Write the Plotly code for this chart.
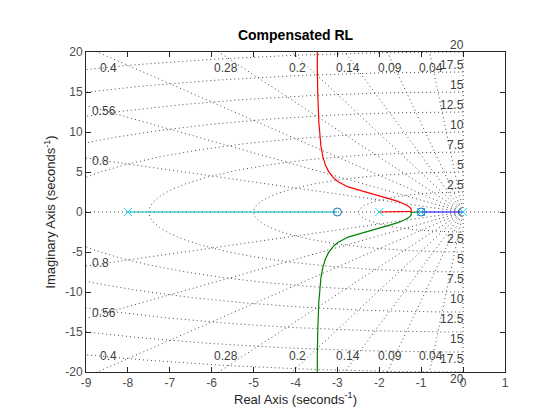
import numpy as np
import plotly.graph_objects as go

# ---- data ----
poles = [0.0, -1.005, -2.0, -8.0]
zeros = [-1.0, -3.0]
branch_colors = ["#0000FF", "#008000", "#FF0000", "#00BFBF"]  # from poles 0, -1, -2, -8
zeta_vals = [0.04, 0.09, 0.14, 0.2, 0.28, 0.4, 0.56, 0.8]
zeta_top = [0.04, 0.09, 0.14, 0.2, 0.28, 0.4]
zeta_left = [0.56, 0.8]
wn_vals = [2.5, 5, 7.5, 10, 12.5, 15, 17.5, 20]
wn_labels = ["2.5", "5", "7.5", "10", "12.5", "15", "17.5", "20"]
x_ticks = list(range(-9, 2))
x_ticklabels = [str(v) for v in x_ticks]
y_ticks = [-20, -15, -10, -5, 0, 5, 10, 15, 20]
y_ticklabels = [str(v) for v in y_ticks]

GRID = "#4a4a4a"
MARK = "#0072BD"
FONT = "Liberation Sans, Arial, Helvetica"

fig = go.Figure()

# ---- s-plane grid (sgrid) ----
gx, gy = [], []
for z in zeta_vals:
    w = np.sqrt(1 - z * z)
    for sgn in (1, -1):
        gx += [0, -40 * z, None]
        gy += [0, sgn * 40 * w, None]
gx += [-9, 1, None, 0, 0, None]
gy += [0, 0, None, -20, 20, None]
th = np.linspace(np.pi / 2, 3 * np.pi / 2, 400)
for wn in wn_vals:
    gx += list(wn * np.cos(th)) + [None]
    gy += list(wn * np.sin(th)) + [None]
fig.add_trace(go.Scatter(x=gx, y=gy, mode="lines", hoverinfo="skip",
                         line=dict(color=GRID, width=1, dash="1px,3px"),
                         showlegend=False))

# ---- root locus ----
D = np.poly(poles)
N = np.poly(zeros)
Np = np.concatenate([np.zeros(len(D) - len(N)), N])
Ks = np.concatenate([[0.0], np.logspace(-6, 5, 8000)])
br = [[] for _ in range(4)]
for K in Ks:
    r = np.roots(D + K * Np)
    real = sorted([x.real for x in r if abs(x.imag) < 1e-9])
    cplx = [x for x in r if abs(x.imag) >= 1e-9]
    if len(real) == 4:
        cy, rd, gr, bl = [complex(v) for v in real]
    else:
        cy, bl = complex(real[0]), complex(real[-1])
        rd = [x for x in cplx if x.imag > 0][0]
        gr = [x for x in cplx if x.imag < 0][0]
    br[0].append(bl); br[1].append(gr); br[2].append(rd); br[3].append(cy)

for b, c in zip(br, branch_colors):
    b = np.array(b)
    fig.add_trace(go.Scatter(x=b.real, y=b.imag, mode="lines", hoverinfo="skip",
                             line=dict(color=c, width=1.2), showlegend=False))

fig.add_trace(go.Scatter(x=poles, y=[0] * len(poles), mode="markers",
                         marker=dict(symbol="x-thin-open", size=8,
                                     line=dict(color=MARK, width=1)),
                         showlegend=False))
fig.add_trace(go.Scatter(x=zeros, y=[0] * len(zeros), mode="markers",
                         marker=dict(symbol="circle-open", size=8, color=MARK,
                                     line=dict(color=MARK, width=1)),
                         showlegend=False))

# ---- grid labels ----
ann = []
lab_font = dict(family=FONT, size=12, color="#404040")
for z in zeta_top:
    s = np.sqrt(1 - z * z) / z
    for sgn in (1, -1):
        ann.append(dict(x=-19.4 / s, y=sgn * 18, text=f"{z:g}", showarrow=False,
                        xanchor="center", yanchor="middle", font=lab_font))
for z in zeta_left:
    s = np.sqrt(1 - z * z) / z
    for sgn in (1, -1):
        ann.append(dict(x=-8.9, y=sgn * s * 8.5, text=f"{z:g}", showarrow=False,
                        xanchor="left", yanchor="middle", font=lab_font))
for wn, t in zip(wn_vals, wn_labels):
    for sgn in (1, -1):
        ann.append(dict(x=0.07, y=sgn * min(wn, 19.99), yshift=sgn * 7, text=t,
                        showarrow=False, xanchor="right", yanchor="middle",
                        font=lab_font))

axis_common = dict(showgrid=False, zeroline=False, ticks="inside", ticklen=5,
                   tickwidth=1, tickcolor="#262626", linecolor="#262626",
                   linewidth=1, mirror="ticks", showline=True,
                   tickfont=dict(family=FONT, size=12, color="#4d4d4d"))

fig.update_layout(
    width=560, height=420,
    margin=dict(l=78, r=63, t=44, b=56),
    paper_bgcolor="white", plot_bgcolor="white",
    title=dict(text="<b>Compensated RL</b>", x=0.5, xanchor="center",
               xref="paper", yref="container", y=1 - 27 / 420, yanchor="middle",
               font=dict(family=FONT, size=14, color="black")),
    xaxis=dict(range=[-9, 1], tickvals=x_ticks, ticktext=x_ticklabels,
               title=dict(text="Real Axis (seconds<sup>-1</sup>)", standoff=4,
                          font=dict(family=FONT, size=13, color="#262626")),
               **axis_common),
    yaxis=dict(range=[-20, 20], tickvals=y_ticks, ticktext=y_ticklabels,
               title=dict(text="Imaginary Axis (seconds<sup>-1</sup>)", standoff=6,
                          font=dict(family=FONT, size=13, color="#262626")),
               **axis_common),
    annotations=ann,
)

fig.write_html("out.html")
